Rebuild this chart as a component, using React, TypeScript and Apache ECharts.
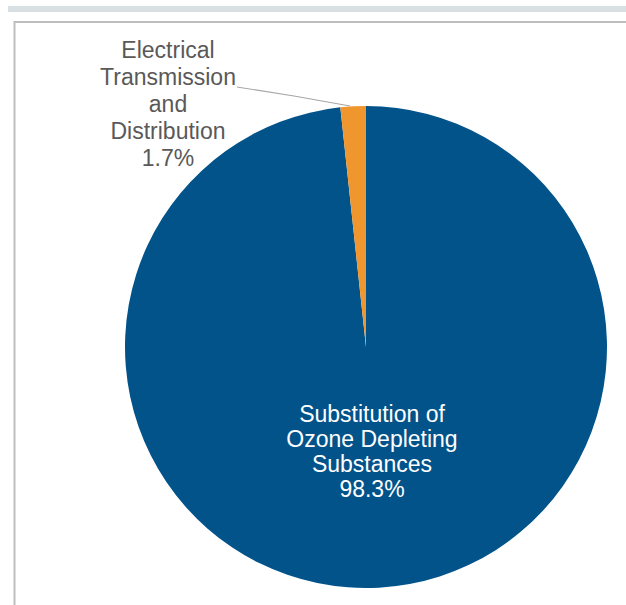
import React, { useEffect, useRef } from "react";
import * as echarts from "echarts";

const categories = [
  "Substitution of\nOzone Depleting\nSubstances",
  "Electrical\nTransmission\nand\nDistribution",
];
const shares = [98.3, 1.7];
const colors = ["#02538a", "#f0962e"];

export default function App() {
  const ref = useRef<HTMLDivElement>(null);
  useEffect(() => {
    if (!ref.current) return;
    const chart = echarts.init(ref.current, null, { renderer: "svg" });
    chart.setOption({
      animation: false,
      backgroundColor: "#ffffff",
      graphic: [
        { type: "rect", shape: { x: 8, y: 6, width: 618, height: 6 }, style: { fill: "#d9e0e4" }, silent: true },
        {
          type: "rect",
          shape: { x: 14.5, y: 22, width: 700, height: 700 },
          style: { fill: "none", stroke: "#bdbdbd", lineWidth: 2 },
          silent: true,
        },
      ],
      series: [
        {
          type: "pie",
          center: [366, 347],
          radius: [0, 241],
          startAngle: 90,
          clockwise: true,
          silent: true,
          data: categories.map((name, i) => ({
            name,
            value: shares[i],
            itemStyle: { color: colors[i] },
            label:
              i === 0
                ? { position: "inside", color: "#ffffff", lineHeight: 25 }
                : { position: "outside", color: "#595959", lineHeight: 27 },
            labelLine:
              i === 0
                ? { show: false }
                : { show: true, lineStyle: { color: "#a6a6a6", width: 1.2 } },
          })),
          label: {
            show: true,
            fontFamily: "Liberation Sans, Arial, sans-serif",
            fontSize: 23,
            align: "center",
            formatter: (p: any) => `${p.name}\n${p.value}%`,
          },
          labelLayout: (p: any) =>
            p.dataIndex === 0
              ? { x: 372, y: 451, align: "center", verticalAlign: "middle" }
              : {
                  x: 168,
                  y: 104,
                  align: "center",
                  verticalAlign: "middle",
                  labelLinePoints: [
                    [350, 106],
                    [294, 96],
                    [237, 87],
                  ],
                },
          emphasis: { disabled: true },
        },
      ],
    });
    return () => chart.dispose();
  }, []);
  return (
    <div
      ref={ref}
      style={{ position: "absolute", left: 0, top: 0, width: 626, height: 605 }}
    />
  );
}
